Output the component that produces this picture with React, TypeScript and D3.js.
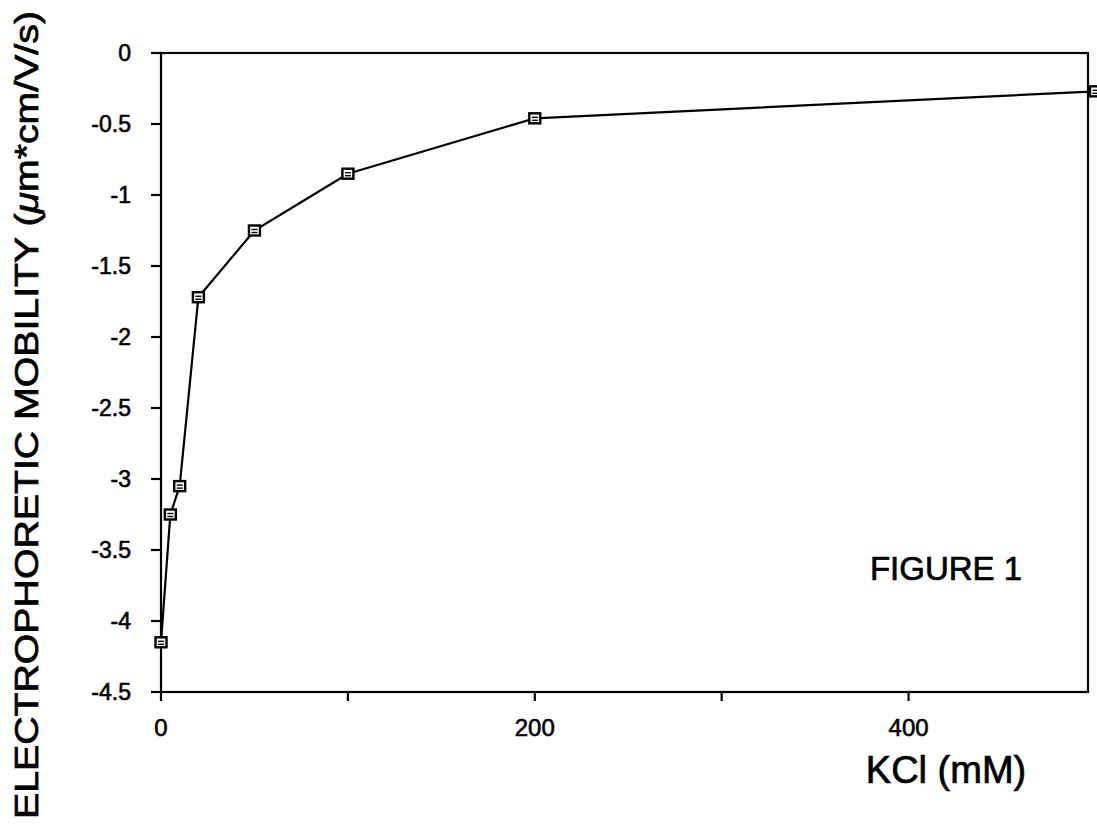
import React from "react";
import * as d3 from "d3";

const kcl = [0, 5, 10, 20, 50, 100, 200, 500];
const mobility = [-4.15, -3.25, -3.05, -1.72, -1.25, -0.85, -0.46, -0.27];
const yTicks = [0, -0.5, -1, -1.5, -2, -2.5, -3, -3.5, -4, -4.5];
const yTickLabels = ["0", "-0.5", "-1", "-1.5", "-2", "-2.5", "-3", "-3.5", "-4", "-4.5"];
const xTicks = [0, 100, 200, 300, 400];
const xLabelTicks = [0, 200, 400];

const W = 1097;
const H = 829;
const left = 161;
const right = 1088;
const top = 53;
const bottom = 692;

export default function App() {
  const x = d3.scaleLinear().domain([0, 496]).range([left, right]);
  const y = d3.scaleLinear().domain([0, -4.5]).range([top, bottom]);
  const data = kcl.map((k, i) => ({ k, v: mobility[i] }));
  const line = d3
    .line<{ k: number; v: number }>()
    .x((d) => x(d.k))
    .y((d) => y(d.v));
  const font = "'Liberation Sans', Arial, Helvetica, sans-serif";
  return (
    <svg
      width={W}
      height={H}
      style={{ position: "absolute", left: 0, top: 0, background: "#fff" }}
      fontFamily={font}
    >
      <rect x={0} y={0} width={W} height={H} fill="#fff" />
      {/* frame */}
      <rect x={left} y={top} width={right - left} height={bottom - top} fill="none" stroke="#000" strokeWidth={2.2} />
      {/* y ticks */}
      {yTicks.map((t, i) => (
        <g key={"y" + i}>
          <line x1={left - 10} x2={left} y1={y(t)} y2={y(t)} stroke="#000" strokeWidth={2.2} />
          <text x={131} y={y(t)} dy="0.36em" textAnchor="end" fontSize={23} fill="#000" stroke="#000" strokeWidth={0.6}>
            {yTickLabels[i]}
          </text>
        </g>
      ))}
      {/* x ticks */}
      {xTicks.map((t) => (
        <line key={"x" + t} x1={x(t)} x2={x(t)} y1={bottom} y2={bottom + 9} stroke="#000" strokeWidth={2.2} />
      ))}
      {xLabelTicks.map((t) => (
        <text key={"xl" + t} x={x(t)} y={736} textAnchor="middle" fontSize={24} fill="#000" stroke="#000" strokeWidth={0.6}>
          {t}
        </text>
      ))}
      {/* data line */}
      <path d={line(data) || ""} fill="none" stroke="#000" strokeWidth={2.2} />
      {data.map((d, i) => (
        <g key={"m" + i} transform={`translate(${x(d.k)},${y(d.v)})`}>
          <rect x={-5.5} y={-5} width={11} height={10} fill="#fff" stroke="#000" strokeWidth={2.4} />
          <line x1={-3} x2={3} y1={-1} y2={-1} stroke="#000" strokeWidth={1.4} />
          <line x1={-3} x2={3} y1={2} y2={2} stroke="#000" strokeWidth={1.4} />
        </g>
      ))}
      {/* annotations */}
      <text x={946} y={580} textAnchor="middle" fontSize={33} fill="#000" stroke="#000" strokeWidth={0.7}>
        FIGURE 1
      </text>
      <text x={946} y={783} textAnchor="middle" fontSize={38} fill="#000" stroke="#000" strokeWidth={0.7}>
        KCl (mM)
      </text>
      <text
        transform="translate(38,415) rotate(-90)"
        textAnchor="middle"
        fontSize={33}
        fill="#000"
        stroke="#000"
        strokeWidth={0.7}
        textLength={808}
        lengthAdjust="spacingAndGlyphs"
      >
        ELECTROPHORETIC MOBILITY (<tspan fontStyle="italic">μ</tspan>m*cm/V/s)
      </text>
    </svg>
  );
}
